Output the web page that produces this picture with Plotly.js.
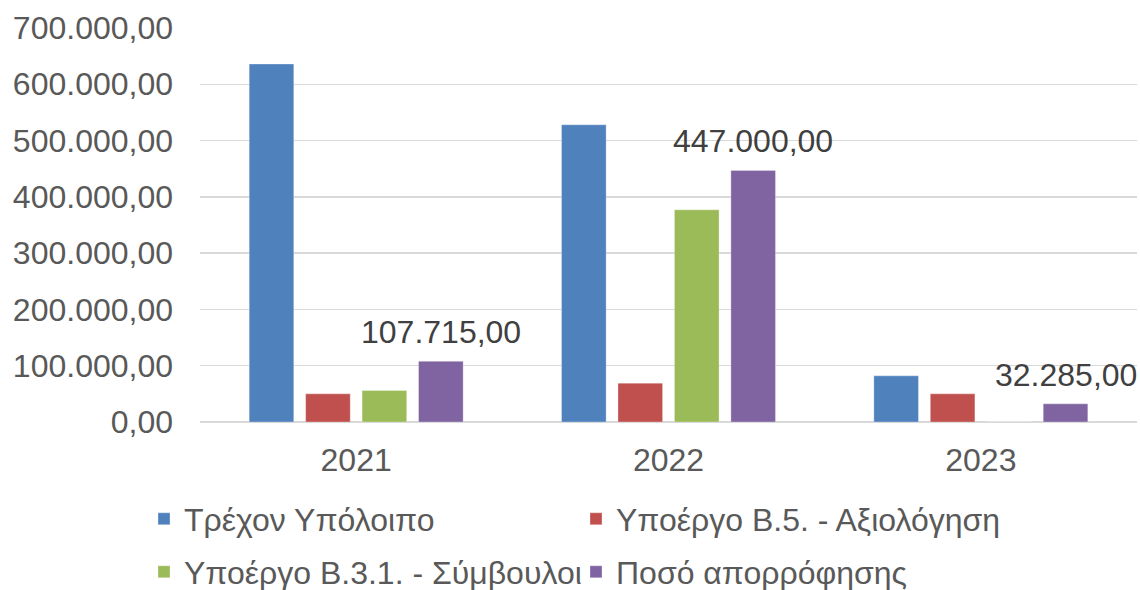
<!DOCTYPE html>
<html><head><meta charset="utf-8">
<script src="https://cdn.plot.ly/plotly-3.0.1.min.js"></script>
<style>html,body{margin:0;padding:0;background:#fff}#chart{width:1140px;height:590px}</style>
</head><body><div id="chart"></div>
<script>
const years = ['2021', '2022', '2023'];
const seriesNames = ['Τρέχον Υπόλοιπο', 'Υποέργο Β.5. - Αξιολόγηση', 'Υποέργο Β.3.1. - Σύμβουλοι', 'Ποσό απορρόφησης'];
const currentBalance = [636000, 528000, 82000];
const subprojectB5 = [50000, 69000, 50000];
const subprojectB31 = [56000, 377000, 0];
const absorbed = [107715, 447000, 32285];
const yTicks = [0, 100000, 200000, 300000, 400000, 500000, 600000, 700000];

const colors = ['#4F81BD', '#C0504D', '#9BBB59', '#8064A2'];
const font = 'Liberation Sans, Arial, sans-serif';
const fs = 32;

function fmt(v) {
  const parts = v.toFixed(2).split('.');
  parts[0] = parts[0].replace(/\B(?=(\d{3})+(?!\d))/g, '.');
  return parts[0] + ',' + parts[1];
}

const seriesValues = [currentBalance, subprojectB5, subprojectB31, absorbed];
const legendIds = ['legend', 'legend', 'legend2', 'legend2'];

const traces = seriesValues.map((vals, i) => ({
  type: 'bar',
  name: seriesNames[i],
  x: years,
  y: vals,
  legend: legendIds[i],
  marker: {color: colors[i], line: {color: 'rgba(255,255,255,0.3)', width: 1}}
}));

const margin = {l: 200, r: 3, t: 28, b: 168};
const plotW = 1140 - margin.l - margin.r;
const bargap = 0.277;
const slot = plotW / years.length * (1 - bargap) / seriesNames.length;
const purpleShift = slot * 1.5;

const annotations = absorbed.map((v, i) => ({
  x: i, y: v, xref: 'x', yref: 'y',
  text: fmt(v), showarrow: false,
  xanchor: 'center', yanchor: 'bottom',
  xshift: purpleShift, yshift: 9,
  font: {family: font, size: fs, color: '#404040'}
}));

const legendCommon = {
  orientation: 'h', xref: 'container', yref: 'container',
  xanchor: 'left', yanchor: 'middle',
  font: {family: font, size: fs, color: '#595959'},
  entrywidth: 387,
  bgcolor: 'rgba(0,0,0,0)'
};

const layout = {
  width: 1140, height: 590,
  margin: margin,
  paper_bgcolor: '#fff', plot_bgcolor: '#fff',
  separators: ',.',
  barmode: 'group',
  bargap: bargap,
  bargroupgap: 0.21,
  showlegend: true,
  legend: Object.assign({}, legendCommon, {x: 144 / 1140, y: 1 - 519 / 590}),
  legend2: Object.assign({}, legendCommon, {x: 144 / 1140, y: 1 - 572 / 590}),
  xaxis: {
    type: 'category',
    range: [-0.5, years.length - 0.5],
    tickfont: {family: font, size: fs, color: '#595959'},
    showgrid: false, showline: false, zeroline: false,
    ticks: '', ticklabelstandoff: 16
  },
  yaxis: {
    range: [0, 700000],
    tickvals: yTicks,
    tickformat: ',.2f',
    tickfont: {family: font, size: fs, color: '#595959'},
    showgrid: true, gridcolor: '#D9D9D9', gridwidth: 1.5,
    zeroline: true, zerolinecolor: '#D9D9D9', zerolinewidth: 1.5,
    showline: false, ticks: '', ticklabelstandoff: 26
  },
  annotations: annotations
};

Plotly.newPlot('chart', traces, layout, {displayModeBar: false, staticPlot: true});
</script>
</body></html>
